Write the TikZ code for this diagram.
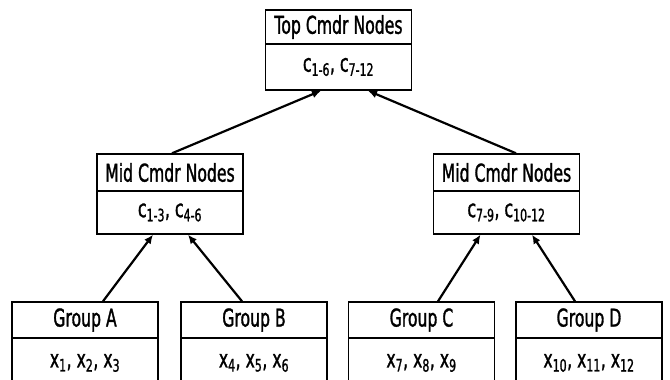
\documentclass[tikz,border=0pt]{standalone}
\usepackage{fontspec}
\setmainfont[FakeStretch=0.64,FakeBold=1.2]{DejaVu Sans}
\usetikzlibrary{arrows.meta,calc}
\begin{document}
\begin{tikzpicture}[x=1pt,y=1pt,
  box/.style={draw=black,line width=1.4pt,minimum width=146pt,inner sep=0pt,font=\fontsize{24.5}{28}\selectfont},
  arr/.style={line width=2.2pt,-{Latex[length=9pt,width=8pt]}}]
\clip (0,0) rectangle (670,380);
\fill[white] (0,0) rectangle (670,380);
% top
\node[box,minimum height=34pt] (toph) at (338.5,353) {Top Cmdr Nodes};
\node[box,minimum height=46pt] (topb) at (338.5,313) {c\textsubscript{1-6}, c\textsubscript{7-12}};
% mid
\node[box,minimum height=37pt] (mLh) at (170,207.5) {Mid Cmdr Nodes};
\node[box,minimum height=43pt] (mLb) at (170,167.5) {c\textsubscript{1-3}, c\textsubscript{4-6}};
\node[box,minimum height=37pt] (mRh) at (506.5,207.5) {Mid Cmdr Nodes};
\node[box,minimum height=43pt] (mRb) at (506.5,167.5) {c\textsubscript{7-9}, c\textsubscript{10-12}};
% bottom
\node[box,minimum height=36pt] (gAh) at (85,60) {Group A};
\node[box,minimum height=50pt] (gAb) at (85,17) {x\textsubscript{1}, x\textsubscript{2}, x\textsubscript{3}};
\node[box,minimum height=36pt] (gBh) at (254,60) {Group B};
\node[box,minimum height=50pt] (gBb) at (254,17) {x\textsubscript{4}, x\textsubscript{5}, x\textsubscript{6}};
\node[box,minimum height=36pt] (gCh) at (421.5,60) {Group C};
\node[box,minimum height=50pt] (gCb) at (421.5,17) {x\textsubscript{7}, x\textsubscript{8}, x\textsubscript{9}};
\node[box,minimum height=36pt] (gDh) at (589,60) {Group D};
\node[box,minimum height=50pt] (gDb) at (589,17) {x\textsubscript{10}, x\textsubscript{11}, x\textsubscript{12}};
% arrows
\draw[arr] ([xshift=18pt]gAh.north) -- ([xshift=-17pt]mLb.south);
\draw[arr] ([xshift=-12pt]gBh.north) -- ([xshift=18pt]mLb.south);
\draw[arr] ([xshift=16.5pt]gCh.north) -- ([xshift=-26pt]mRb.south);
\draw[arr] ([xshift=-14pt]gDh.north) -- ([xshift=25.5pt]mRb.south);
\draw[arr] ([xshift=2pt]mLh.north) -- ([xshift=-17.5pt]topb.south);
\draw[arr] ([xshift=9.5pt]mRh.north) -- ([xshift=29.5pt]topb.south);
\end{tikzpicture}
\end{document}
